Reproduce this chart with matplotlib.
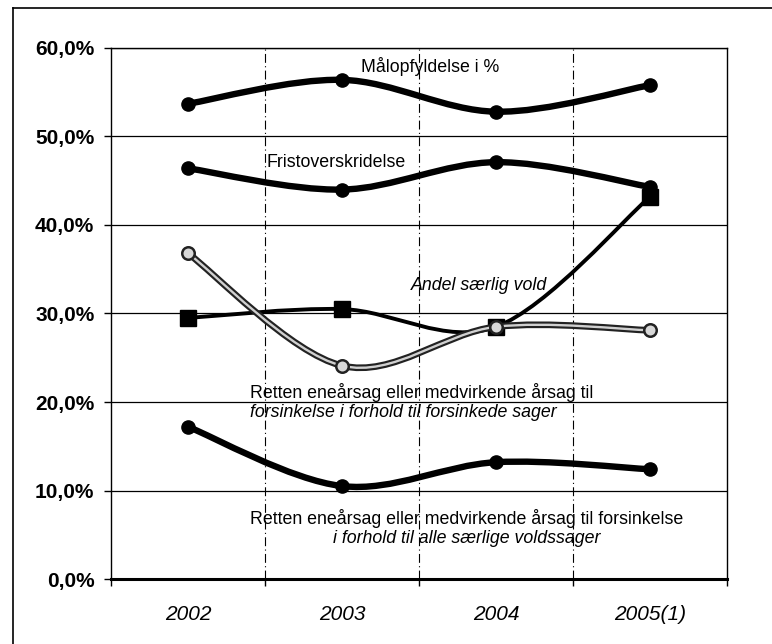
import numpy as np
import matplotlib
matplotlib.use('Agg')
import matplotlib.pyplot as plt
from matplotlib.path import Path
from matplotlib.patches import PathPatch
from matplotlib.lines import Line2D

plt.rcParams['font.family'] = ['Liberation Sans', 'DejaVu Sans']

# data (percent)
years = ['2002', '2003', '2004', '2005(1)']
maalopfyldelse = [53.7, 56.4, 52.8, 55.8]
fristoverskridelse = [46.4, 44.0, 47.1, 44.3]
andel_saerlig_vold = [29.5, 30.5, 28.5, 43.2]
retten_forsinkede = [36.8, 24.1, 28.5, 28.1]
retten_alle = [17.2, 10.5, 13.2, 12.4]


def smooth_path(xs, ys):
    # Excel-style smoothed line: cubic bezier segments through the points
    pts = np.column_stack([xs, ys]).astype(float)
    n = len(pts)
    verts = [pts[0]]
    codes = [Path.MOVETO]
    for i in range(n - 1):
        p0 = pts[i - 1] if i > 0 else pts[i]
        p1 = pts[i]
        p2 = pts[i + 1]
        p3 = pts[i + 2] if i + 2 < n else pts[i + 1]
        c1 = p1 + (p2 - p0) / 6.0
        c2 = p2 - (p3 - p1) / 6.0
        verts += [c1, c2, p2]
        codes += [Path.CURVE4] * 3
    return Path(verts, codes)


def draw_curve(ax, ys, lw, color='black', z=3):
    x = np.arange(len(ys))
    patch = PathPatch(smooth_path(x, ys), fill=False, lw=lw, edgecolor=color,
                      capstyle='round', joinstyle='round', zorder=z)
    ax.add_patch(patch)


fig = plt.figure(figsize=(7.72, 6.44), dpi=100)
ax = fig.add_axes([0.1438, 0.1009, 0.798, 0.8246])

x = np.arange(len(years))

# thick black lines with round markers
for vals in [maalopfyldelse, fristoverskridelse, retten_alle]:
    draw_curve(ax, vals, 4.6)
    ax.plot(x, vals, linestyle='none', marker='o', markersize=9.5,
            color='black', zorder=4)

# andel saerlig vold: medium line with squares
draw_curve(ax, andel_saerlig_vold, 2.8)
ax.plot(x, andel_saerlig_vold, linestyle='none', marker='s', markersize=12,
        color='black', zorder=4)

# retten ... forsinkede sager: double line (dark edge, light core)
draw_curve(ax, retten_forsinkede, 4.8, color='#222222', z=5)
draw_curve(ax, retten_forsinkede, 1.7, color='#d0d0d0', z=6)
ax.plot(x, retten_forsinkede, linestyle='none', marker='o', markersize=9,
        markerfacecolor='#d8d8d8', markeredgecolor='#222222',
        markeredgewidth=1.8, zorder=7)

ax.set_xlim(-0.5, 3.5)
ax.set_ylim(0, 60)

ax.set_yticks(np.arange(0, 61, 10))
ax.set_yticklabels([f'{v},0%' for v in range(0, 61, 10)],
                   fontsize=15, fontweight='bold')
ax.tick_params(axis='y', direction='out', length=5, width=1, pad=7)

ax.set_xticks(x)
ax.set_xticklabels(years, fontsize=15, fontstyle='italic')
ax.set_xticks([0.5, 1.5, 2.5, 3.5, -0.5], minor=True)
ax.tick_params(axis='x', which='major', length=0, pad=19)
ax.tick_params(axis='x', which='minor', direction='out', length=5, width=1)

ax.grid(axis='y', color='black', lw=0.9, zorder=1)
for b in [0.5, 1.5, 2.5]:
    ax.axvline(b, color='black', lw=0.8, linestyle=(0, (8, 3, 1, 3)), zorder=1)

for side in ['left', 'right', 'top']:
    ax.spines[side].set_linewidth(1.0)
ax.spines['bottom'].set_linewidth(2.2)

# series labels
ax.text(1.12, 57.9, 'Målopfyldelse i %', fontsize=12.8, va='center', ha='left')
ax.text(0.51, 47.1, 'Fristoverskridelse', fontsize=12.8, va='center', ha='left')
ax.text(1.45, 33.2, 'Andel særlig vold', fontsize=12.8, fontstyle='italic',
        va='center', ha='left')
ax.text(0.40, 21.1, 'Retten eneårsag eller medvirkende årsag til',
        fontsize=12.8, va='center', ha='left')
ax.text(0.40, 18.8, 'forsinkelse i forhold til forsinkede sager',
        fontsize=12.8, fontstyle='italic', va='center', ha='left')
ax.text(1.81, 6.8, 'Retten eneårsag eller medvirkende årsag til forsinkelse',
        fontsize=12.8, va='center', ha='center')
ax.text(1.81, 4.6, 'i forhold til alle særlige voldssager',
        fontsize=12.8, fontstyle='italic', va='center', ha='center')

# outer frame of the scanned figure
fig.add_artist(Line2D([13 / 772, 13 / 772], [0, 1 - 8 / 644],
                      transform=fig.transFigure, color='black', lw=1.2))
fig.add_artist(Line2D([13 / 772, 1], [1 - 8 / 644, 1 - 8 / 644],
                      transform=fig.transFigure, color='black', lw=1.2))

fig.savefig('out.png', dpi=100)
